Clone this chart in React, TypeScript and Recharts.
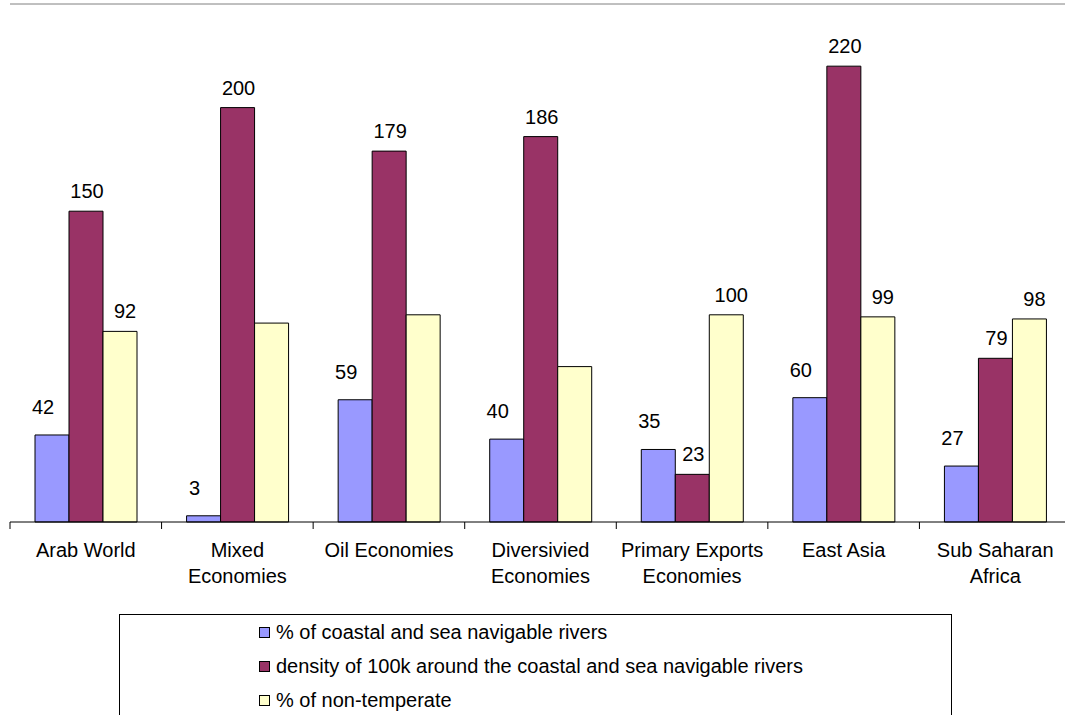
import React from 'react';
import { BarChart, Bar, XAxis, YAxis, LabelList, Legend, ReferenceLine } from 'recharts';

const categories = [
  'Arab World',
  'Mixed Economies',
  'Oil Economies',
  'Diversivied Economies',
  'Primary Exports Economies',
  'East Asia',
  'Sub Saharan Africa',
];
const coastalShare = [42, 3, 59, 40, 35, 60, 27];
const coastalDensity = [150, 200, 179, 186, 23, 220, 79];
const nonTemperate = [92, 96, 100, 75, 100, 99, 98];
const nonTemperateLabeled = [true, false, false, false, true, true, true];

const seriesNames = [
  '% of coastal and sea navigable rivers',
  'density of 100k around the coastal and sea navigable rivers',
  '% of non-temperate',
];

const data = categories.map((name, i) => ({
  name,
  coastal: coastalShare[i],
  density: coastalDensity[i],
  nonTemp: nonTemperate[i],
}));

const FONT = '"Liberation Sans", Arial, Helvetica, sans-serif';
const FS = 20;

let measureCtx: CanvasRenderingContext2D | null = null;
const measure = (s: string) => {
  if (!measureCtx && typeof document !== 'undefined') {
    measureCtx = document.createElement('canvas').getContext('2d');
  }
  if (!measureCtx) return s.length * FS * 0.55;
  measureCtx.font = `${FS}px ${FONT}`;
  return measureCtx.measureText(s).width;
};

const wrapWords = (text: string, maxWidth: number) => {
  const words = String(text).split(' ');
  const lines: string[] = [];
  let cur = '';
  words.forEach((w) => {
    const trial = cur ? cur + ' ' + w : w;
    if (cur && measure(trial) > maxWidth) {
      lines.push(cur);
      cur = w;
    } else {
      cur = trial;
    }
  });
  if (cur) lines.push(cur);
  return lines;
};

const CategoryTick = (props: any) => {
  const { x, y, payload } = props;
  const half = payload && typeof payload.offset === 'number' && payload.offset > 0 ? payload.offset : 75.8;
  const lines = wrapWords(payload.value, half * 2 - 4);
  return (
    <g>
      <line x1={x - half} x2={x - half} y1={y - 7} y2={y} stroke="#000" strokeWidth={1} />
      <text x={x} y={y + 28} textAnchor="middle" fill="#000" style={{ fontSize: FS, fontFamily: FONT }}>
        {lines.map((ln, i) => (
          <tspan key={i} x={x} dy={i === 0 ? 0 : 26}>
            {ln}
          </tspan>
        ))}
      </text>
    </g>
  );
};

const makeLabel = (lift: number, shiftX: number, shown?: boolean[]) => (props: any) => {
  const { x, y, width, value, index } = props;
  if (shown && index != null && !shown[index]) return null;
  return (
    <text
      x={Number(x) + Number(width) / 2 + shiftX}
      y={Number(y) - lift}
      textAnchor="middle"
      fill="#000"
      style={{ fontSize: FS, fontFamily: FONT }}
    >
      {value}
    </text>
  );
};

const LegendBox = (props: any) => {
  const payload = [...(props.payload || [])].sort(
    (a: any, b: any) => seriesNames.indexOf(a.value) - seriesNames.indexOf(b.value)
  );
  return (
    <div
      style={{
        marginLeft: 119,
        width: 833,
        height: 110,
        boxSizing: 'border-box',
        border: '1px solid #000',
        background: '#fff',
        fontFamily: FONT,
        fontSize: FS,
        color: '#000',
      }}
    >
      {payload.map((entry: any, i: number) => (
        <div
          key={i}
          style={{ height: 34, display: 'flex', alignItems: 'center', paddingLeft: 139 }}
        >
          <span
            style={{
              display: 'inline-block',
              width: 11,
              height: 11,
              boxSizing: 'border-box',
              border: '1px solid #000',
              background: entry.color,
              marginRight: 6,
              flex: 'none',
            }}
          />
          <span style={{ lineHeight: '34px', whiteSpace: 'nowrap' }}>{entry.value}</span>
        </div>
      ))}
    </div>
  );
};

export default function App() {
  return (
    <div
      style={{
        position: 'absolute',
        left: 0,
        top: 0,
        width: 1065,
        height: 715,
        overflow: 'hidden',
        background: '#fff',
      }}
    >
      <BarChart
        width={1080}
        height={724}
        data={data}
        margin={{ top: 4, right: 9, left: 10, bottom: 0 }}
        barSize={34}
        barGap={0}
      >
        <ReferenceLine y={250} stroke="#808080" strokeWidth={1} ifOverflow="extendDomain" />
        <XAxis
          dataKey="name"
          interval={0}
          height={92}
          tickLine={false}
          tickSize={7}
          tickMargin={0}
          axisLine={{ stroke: '#000' }}
          tick={<CategoryTick />}
        />
        <YAxis
          domain={[0, 250]}
          width={0}
          tick={false}
          tickLine={false}
          axisLine={{ stroke: '#000' }}
        />
        <Legend
          verticalAlign="bottom"
          itemSorter={null as any}
          content={<LegendBox />}
          wrapperStyle={{ left: 0, bottom: 0, width: 1080, height: 110 }}
        />
        <Bar dataKey="coastal" name={seriesNames[0]} fill="#9999FF" stroke="#000" strokeWidth={1} isAnimationActive={false}>
          <LabelList dataKey="coastal" content={makeLabel(21, -9)} />
        </Bar>
        <Bar dataKey="density" name={seriesNames[1]} fill="#993366" stroke="#000" strokeWidth={1} isAnimationActive={false}>
          <LabelList dataKey="density" content={makeLabel(13, 1)} />
        </Bar>
        <Bar dataKey="nonTemp" name={seriesNames[2]} fill="#FFFFCC" stroke="#000" strokeWidth={1} isAnimationActive={false}>
          <LabelList dataKey="nonTemp" content={makeLabel(13, 5, nonTemperateLabeled)} />
        </Bar>
      </BarChart>
    </div>
  );
}
